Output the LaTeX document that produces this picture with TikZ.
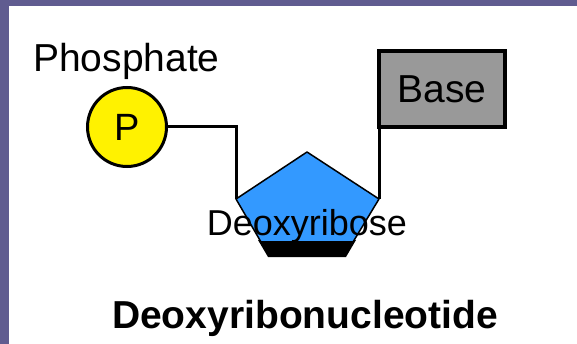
\documentclass[tikz,border=0pt]{standalone}
\usepackage{fontspec}
\setmainfont{Liberation Sans}
\usetikzlibrary{calc, positioning}
\definecolor{framecol}{RGB}{96,92,144}
\definecolor{sugarblue}{RGB}{51,153,255}
\definecolor{basegray}{RGB}{153,153,153}
\tikzset{
    labelnode/.style = {draw=none, fill=none, rectangle, inner sep=0em, font=\fontsize{39}{39}\selectfont},
    phosnode/.style = {circle, draw, line width=3pt, fill=yellow, minimum size=79pt, inner sep=0em,
      font=\fontsize{38}{38}\selectfont},
    basenode/.style = {draw, rectangle, line width=4pt, fill=basegray, minimum width=126pt,
      minimum height=76pt, inner sep=0em, font=\fontsize{39}{39}\selectfont},
    bond/.style = {black, line width=3pt},
}

\begin{document}
\begin{tikzpicture}[x=1pt, y=-1pt]
    % frame
    \fill[framecol] (0,0) rectangle (577,344);
    \fill[white] (9,6) rectangle (577,344);
    \useasboundingbox (0,0) rectangle (577,344);

    % sugar ring with its dark underside
    \coordinate (top) at (307,152);
    \coordinate (sugR) at (379,199);
    \coordinate (sugBR) at (353,242);
    \coordinate (sugBL) at (261,242);
    \coordinate (sugL) at (236,199);
    \fill[black] (258,240) -- (356,240) -- (346,257) -- (268,257) -- cycle;
    \filldraw[fill=sugarblue, draw=black, line width=1.5pt, line join=round]
        (top) -- (sugR) -- (sugBR) -- (sugBL) -- (sugL) -- cycle;

    \node [phosnode, name=P] at (127,127) {P};
    \node [labelnode, name=phoslabel, anchor=base west] at (33,72) {Phosphate};
    \node [basenode, name=base] at (442,89) {Base};
    \node [labelnode, name=sugar, anchor=base, font=\fontsize{36}{36}\selectfont] at (307,236) {Deoxyribose};
    \node [labelnode, name=title, anchor=base, font=\bfseries\fontsize{39}{39}\selectfont] at (305,328)
        {Deoxyribonucleotide};

    \draw[bond] (P.east) -| (sugL);
    \draw[bond] ([xshift=2pt]base.south west) -- (sugR);
\end{tikzpicture}
\end{document}
